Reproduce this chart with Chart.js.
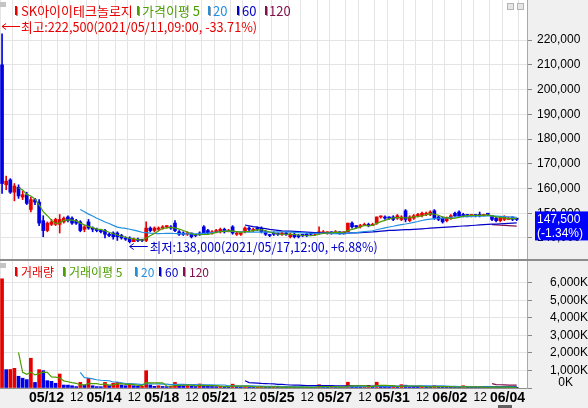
<!DOCTYPE html>
<html>
<head>
<meta charset="utf-8">
<script src="https://cdn.jsdelivr.net/npm/chart.js@4.4.0/dist/chart.umd.min.js"></script>
<style>
  html, body { margin: 0; padding: 0; background: #f0f0f0; }
  #wrap { position: relative; width: 588px; height: 408px; overflow: hidden; }
  canvas { position: absolute; left: 0; background: #f0f0f0; }
  #price { top: 0; }
  #sep { position: absolute; left: 0; top: 259px; width: 588px; height: 2px; background: #8c8c8c; }
  #volume { top: 261px; }
</style>
</head>
<body>
<div id="wrap">
  <canvas id="price" width="588" height="259" style="width:588px;height:259px"></canvas>
  <div id="sep"></div>
  <canvas id="volume" width="588" height="147" style="width:588px;height:147px"></canvas>
</div>
<script>
"use strict"

// 종목 / 날짜 / 시간 (60분봉)
const stockName = 'SK아이이테크놀로지';
const days = ['05/11', '05/12', '05/13', '05/14', '05/17', '05/18', '05/20', '05/21', '05/24',
    '05/25', '05/26', '05/27', '05/28', '05/31', '06/01', '06/02', '06/03', '06/04'];
const hours = ['09:00', '10:00', '11:00', '12:00', '13:00', '14:00', '15:00'];

// 시가 / 고가 / 저가 / 종가
const openPrices = [
    210000, 161500, 163500, 158500, 160500, 156500, 157500,
    151500, 155500, 154500, 147000, 143000, 145500, 145500,
    145500, 146500, 148500, 148000, 147000, 146500, 143500,
    146500, 144000, 143500, 143000, 143000, 141500, 142000,
    142000, 141000, 140000, 140000, 138500, 139500, 139500,
    139000, 144000, 143000, 143500, 144000, 144500, 144500,
    146000, 142500, 142000, 141500, 142000, 141500, 142000,
    144500, 143000, 142000, 142500, 142500, 143500, 142500,
    144500, 141500, 141500, 142500, 144000, 143000, 144000,
    144000, 142500, 141000, 142000, 142000, 141500, 142000,
    140500, 141500, 141000, 141500, 141500, 142000, 141500,
    142000, 142000, 142000, 142500, 142000, 142500, 142000,
    142500, 146000, 145000, 144500, 145000, 145500, 145000,
    146000, 148500, 148500, 148500, 148500, 148000, 147500,
    151000, 147000, 148000, 149000, 149000, 149500, 149500,
    151000, 148500, 148000, 147000, 148000, 150000, 150500,
    149500, 149500, 149000, 149500, 149500, 149000, 150000,
    149000, 148000, 147000, 147500, 147500, 148500, 148000
];
const highPrices = [
    222500, 165000, 164000, 162000, 161500, 159000, 158500,
    156500, 156000, 155500, 149000, 146500, 147500, 148000,
    149500, 148500, 149000, 148500, 147500, 147000, 145000,
    147500, 144500, 144000, 143500, 143500, 142000, 142500,
    142500, 141500, 140500, 140500, 140000, 140000, 139500,
    146500, 144500, 144500, 144500, 145000, 145000, 145000,
    147000, 143000, 142500, 142500, 142000, 141500, 142500,
    145000, 143500, 143000, 143500, 144000, 144000, 143500,
    145000, 142500, 142500, 144500, 144500, 144000, 144500,
    144500, 143000, 141500, 142500, 142000, 142500, 142500,
    142000, 142000, 141500, 141500, 142000, 142000, 142000,
    144500, 143000, 142500, 142500, 143000, 142500, 142500,
    146000, 146500, 145000, 145500, 146000, 146000, 146000,
    148500, 149000, 149000, 148500, 149000, 149500, 149000,
    151500, 149000, 149500, 150000, 150500, 150500, 151000,
    151500, 149000, 148500, 148500, 149500, 150500, 151000,
    150000, 149500, 149500, 149500, 150500, 149500, 150000,
    149000, 148500, 148500, 149000, 148500, 148500, 148000
];
const lowPrices = [
    158000, 159500, 158000, 155000, 156000, 155500, 153500,
    150500, 153500, 145000, 140500, 142500, 145000, 145000,
    142000, 146000, 146500, 145500, 145500, 142500, 142500,
    143500, 142500, 142500, 142000, 140000, 140500, 139500,
    139000, 139500, 139000, 138000, 138500, 138500, 138500,
    138500, 142500, 142500, 143000, 143500, 144000, 143500,
    142500, 141000, 141000, 141000, 140000, 140500, 141000,
    141500, 141500, 141500, 142000, 142000, 142000, 142500,
    141500, 141000, 141000, 142000, 143000, 142500, 143000,
    142000, 141000, 140500, 141000, 141000, 141000, 141000,
    140000, 140000, 140000, 140500, 140500, 141000, 141000,
    141500, 142000, 141500, 141500, 142000, 141500, 141500,
    142500, 144000, 144000, 144000, 145000, 144500, 145000,
    145500, 148000, 147500, 147500, 147000, 147500, 147000,
    146500, 146500, 147500, 148500, 148500, 149000, 149000,
    147500, 147000, 146000, 146500, 147500, 148500, 148500,
    148500, 148500, 148500, 148500, 148500, 149000, 149000,
    147000, 146500, 146500, 147000, 147500, 147000, 147000
];
const closePrices = [
    162000, 163000, 158500, 161000, 157000, 157500, 154000,
    155500, 154500, 146000, 143000, 146000, 146500, 147500,
    147500, 148000, 147000, 146000, 146000, 143000, 144500,
    144000, 143500, 143000, 142500, 141500, 141000, 140500,
    140500, 140000, 139500, 138500, 139500, 139000, 139000,
    144000, 143000, 144000, 144000, 144500, 145000, 144000,
    143000, 141500, 141500, 142000, 140500, 141000, 141500,
    142000, 142000, 142500, 143000, 143500, 142500, 143000,
    142000, 142000, 142000, 144000, 143500, 143500, 143500,
    142500, 141500, 141000, 141500, 141500, 142000, 141500,
    141500, 140500, 140500, 141000, 141000, 141500, 141500,
    142500, 142500, 142500, 142000, 142500, 142000, 142500,
    146000, 144500, 144500, 145000, 145500, 145000, 145500,
    148500, 148500, 148000, 148000, 147500, 149000, 148500,
    147500, 148500, 149000, 149500, 150000, 150000, 150500,
    148000, 147500, 146500, 148000, 149000, 149000, 149000,
    149000, 149000, 149500, 149000, 149000, 149500, 149500,
    147500, 147000, 148000, 148500, 148000, 147500, 147500
];

// 거래량 (천주)
const volumes = [
    6240, 1050, 1060, 1125, 670, 560, 480,
    1700, 320, 1050, 990, 420, 380, 270,
    800, 170, 165, 130, 80, 320, 170,
    550, 130, 80, 75, 320, 170, 270,
    320, 170, 130, 230, 130, 95, 100,
    990, 170, 95, 130, 90, 80, 100,
    320, 150, 130, 140, 110, 90, 230,
    160, 100, 90, 80, 100, 70, 60,
    220, 90, 70, 80, 60, 55, 70,
    90, 60, 50, 55, 45, 50, 40,
    60, 50, 45, 40, 45, 40, 50,
    190, 60, 45, 50, 40, 45, 50,
    330, 120, 80, 60, 70, 150, 80,
    330, 130, 80, 60, 70, 60, 190,
    160, 90, 70, 60, 80, 55, 50,
    130, 80, 70, 60, 55, 50, 45,
    130, 60, 50, 45, 40, 45, 40,
    60, 50, 45, 40, 35, 45, 40
];

const maPeriods = [5, 20, 60, 120];
const priceTicks = [140000, 150000, 160000, 170000, 180000, 190000, 200000, 210000, 220000];
const volumeTicks = [0, 1000, 2000, 3000, 4000, 5000, 6000];

// 색
const RED = '#e80000';
const BLUE = '#0000e6';
const maColors = ['#4c9e00', '#2290e0', '#0000c8', '#82104c'];
const GRID = '#e4e4e4';
const FONT = '"Liberation Sans", Arial, sans-serif';
const KFONT = '"Noto Sans CJK KR", "Noto Sans", sans-serif';

// 카테고리 (오른쪽 빈칸 2개)
const labels = [];
days.forEach((d) => hours.forEach((h) => labels.push(d + ' ' + h)));
labels.push('', '');

function movingAverage(values, n) {
    return values.map((v, i) => {
        if (i < n - 1) return null;
        let sum = 0;
        for (let k = i - n + 1; k <= i; k++) sum += values[k];
        return sum / n;
    });
}

// 양봉/음봉
const isUp = closePrices.map((c, i) => {
    if (c !== openPrices[i]) return c > openPrices[i];
    return i === 0 || c >= closePrices[i - 1];
});
const volUp = volumes.map((v, i) => i === 0 || v >= volumes[i - 1]);

function gridColor(c) {
    const i = c.index;
    return (i % 7 === 0 || i % 7 === 3) ? GRID : 'rgba(0,0,0,0)';
}

function xTickLabel(i) {
    if (i >= days.length * hours.length) return '';
    const d = Math.floor(i / 7);
    const h = i % 7;
    if (h === 0 && d % 2 === 1) return days[d];
    if (h === 3 && d % 2 === 0 && d > 0) return '12';
    return '';
}

// 축이 차트 영역을 줄이지 않게
function noPadding(s) {
    s.paddingTop = 0;
    s.paddingBottom = 0;
    s.paddingLeft = 0;
    s.paddingRight = 0;
}

// 흰색 차트 영역
const plotBackground = {
    id: 'plotBackground',
    beforeDraw(chart) {
        const { ctx, chartArea: a } = chart;
        ctx.save();
        ctx.fillStyle = '#ffffff';
        ctx.fillRect(a.left, a.top, a.right - a.left, a.bottom - a.top);
        ctx.restore();
    }
};

function drawLegend(ctx, items, y, size) {
    ctx.font = size + 'px ' + KFONT;
    ctx.textBaseline = 'middle';
    ctx.textAlign = 'left';
    items.forEach((it) => {
        ctx.fillStyle = '#9a9a9a';
        ctx.fillRect(it.m + 1, y - 3, 2, 9);
        ctx.fillStyle = it.color;
        ctx.fillRect(it.m, y - 4, 2, 9);
        ctx.fillText(it.text, it.x, y + 1);
    });
}

function drawArrow(ctx, x, y, len, color) {
    ctx.strokeStyle = color;
    ctx.lineWidth = 1;
    ctx.beginPath();
    ctx.moveTo(x, y + 0.5);
    ctx.lineTo(x + len, y + 0.5);
    ctx.moveTo(x + 4, y - 2.5);
    ctx.lineTo(x, y + 0.5);
    ctx.lineTo(x + 4, y + 3.5);
    ctx.stroke();
}

function pct(a, b) {
    const v = (a / b - 1) * 100;
    return (v >= 0 ? '+' : '') + v.toFixed(2) + '%';
}

function stamp(i) {
    return '2021/' + days[Math.floor(i / 7)] + ',' + hours[i % 7];
}

function fmt(v) {
    return v.toLocaleString('en-US');
}

const priceNotes = {
    id: 'priceNotes',
    afterDraw(chart) {
        const { ctx, scales: { x, y }, chartArea } = chart;
        const last = closePrices[closePrices.length - 1];
        const prevClose = closePrices[closePrices.length - 8];
        ctx.save();

        // 작은 아이콘
        ctx.fillStyle = '#c4c4c4';
        ctx.fillRect(0, 2, 6, 5);
        ctx.fillStyle = '#e6e6e6';
        ctx.strokeStyle = '#b4b4b4';
        ctx.fillRect(507, 3, 7, 7);
        ctx.strokeRect(507.5, 3.5, 6, 6);
        ctx.fillRect(517, 3, 7, 7);
        ctx.strokeRect(517.5, 3.5, 6, 6);

        drawLegend(ctx, [
            { m: 15, x: 21, text: stockName, color: RED },
            { m: 137, x: 142, text: '가격이평 5', color: maColors[0] },
            { m: 208, x: 213, text: '20', color: maColors[1] },
            { m: 237, x: 242, text: '60', color: maColors[2] },
            { m: 265, x: 269, text: '120', color: maColors[3] }
        ], 10, 13);

        // 최고가
        const hiVal = Math.max(...highPrices);
        const hi = highPrices.indexOf(hiVal);
        const hx = x.getPixelForValue(hi);
        const hy = Math.round(y.getPixelForValue(hiVal) - 8);
        ctx.font = '13px ' + KFONT;
        ctx.fillStyle = RED;
        drawArrow(ctx, hx, hy, 18, RED);
        ctx.fillText('최고:' + fmt(hiVal) + '(' + stamp(hi) + ', ' + pct(last, hiVal) + ')', hx + 19, hy + 1, 236);

        // 최저가
        const loVal = Math.min(...lowPrices);
        const lo = lowPrices.indexOf(loVal);
        const lx = x.getPixelForValue(lo);
        const ly = Math.round(y.getPixelForValue(loVal) + 3);
        ctx.fillStyle = '#0000c8';
        drawArrow(ctx, lx, ly, 18, '#0000c8');
        ctx.fillText('최저:' + fmt(loVal) + '(' + stamp(lo) + ', ' + pct(last, loVal) + ')', lx + 20, ly + 1, 228);

        // 현재가 박스
        const cy = y.getPixelForValue(last);
        ctx.fillStyle = '#0000ff';
        ctx.fillRect(chartArea.right + 8, cy - 8, 53, 29);
        ctx.fillStyle = '#ffffff';
        ctx.font = '12px ' + FONT;
        ctx.textAlign = 'left';
        ctx.textBaseline = 'middle';
        ctx.fillText(fmt(last), chartArea.right + 10, cy);
        ctx.fillText('(' + ((last / prevClose - 1) * 100).toFixed(2) + '%)', chartArea.right + 10, cy + 14);
        ctx.restore();
    }
};

const volumeNotes = {
    id: 'volumeNotes',
    afterDraw(chart) {
        const { ctx, scales: { y } } = chart;
        ctx.save();
        ctx.fillStyle = '#c4c4c4';
        ctx.fillRect(0, 2, 6, 5);
        drawLegend(ctx, [
            { m: 15, x: 21, text: '거래량', color: RED },
            { m: 63, x: 69, text: '거래이평 5', color: maColors[0] },
            { m: 135, x: 141, text: '20', color: maColors[1] },
            { m: 159, x: 165, text: '60', color: maColors[2] },
            { m: 183, x: 189, text: '120', color: maColors[3] }
        ], 10, 12);
        ctx.font = '12px ' + FONT;
        ctx.fillStyle = '#000';
        ctx.textAlign = 'right';
        ctx.textBaseline = 'middle';
        ctx.fillText('0K', 573, y.getPixelForValue(0) - 5.5);
        // 스크롤 표시
        ctx.fillStyle = '#606060';
        ctx.fillRect(498, 144, 14, 3);
        ctx.restore();
    }
};

function maDatasets(values) {
    return maPeriods.map((n, k) => ({
        type: 'line',
        data: movingAverage(values, n),
        borderColor: maColors[k],
        borderWidth: 1.2,
        pointRadius: 0,
        tension: 0,
        order: 0
    }));
}

// 가격 차트
new Chart(document.getElementById('price'), {
    type: 'bar',
    data: {
        labels: labels,
        datasets: [
            ...maDatasets(closePrices),
            {
                data: openPrices.map((o, i) => [o, closePrices[i]]),
                backgroundColor: (c) => isUp[c.dataIndex] ? RED : BLUE,
                barThickness: 3,
                minBarLength: 1,
                grouped: false,
                order: 1
            },
            {
                data: lowPrices.map((l, i) => [l, highPrices[i]]),
                backgroundColor: (c) => isUp[c.dataIndex] ? RED : BLUE,
                barThickness: 1,
                grouped: false,
                order: 2
            }
        ]
    },
    options: {
        responsive: false,
        animation: false,
        events: [],
        layout: { padding: 0 },
        plugins: { legend: { display: false }, tooltip: { enabled: false } },
        scales: {
            x: {
                offset: true,
                afterFit: (s) => { s.height = 0; noPadding(s); },
                grid: { offset: true, color: gridColor, drawTicks: false },
                border: { display: false },
                ticks: { display: false, autoSkip: false }
            },
            y: {
                position: 'right',
                min: 131500,
                max: 236200,
                afterBuildTicks: (s) => { s.ticks = priceTicks.map((v) => ({ value: v })); },
                afterFit: (s) => { s.width = 61; noPadding(s); },
                grid: { color: GRID, tickColor: '#8a8a8a', tickLength: 5 },
                border: { color: '#a8a8a8' },
                ticks: {
                    autoSkip: false,
                    padding: 5,
                    color: '#000',
                    font: { family: FONT, size: 12 },
                    callback: (v) => fmt(v)
                }
            }
        }
    },
    plugins: [plotBackground, priceNotes]
});

// 거래량 차트
new Chart(document.getElementById('volume'), {
    type: 'bar',
    data: {
        labels: labels,
        datasets: [
            ...maDatasets(volumes),
            {
                data: volumes,
                backgroundColor: (c) => volUp[c.dataIndex] ? RED : BLUE,
                barThickness: 3,
                grouped: false,
                order: 1
            }
        ]
    },
    options: {
        responsive: false,
        animation: false,
        events: [],
        layout: { padding: 0 },
        plugins: { legend: { display: false }, tooltip: { enabled: false } },
        scales: {
            x: {
                offset: true,
                afterFit: (s) => { s.height = 20; noPadding(s); },
                grid: { offset: true, color: gridColor, drawTicks: false },
                border: { color: '#909090' },
                ticks: {
                    autoSkip: false,
                    maxRotation: 0,
                    minRotation: 0,
                    align: 'start',
                    labelOffset: -2,
                    padding: 2,
                    color: '#000',
                    font: (c) => {
                        const plain = c.tick && c.tick.label === '12';
                        return { family: FONT, size: plain ? 12 : 14, weight: plain ? 'normal' : 'bold' };
                    },
                    callback: (v, i) => xTickLabel(i)
                }
            },
            y: {
                position: 'right',
                min: 0,
                max: 7257,
                afterBuildTicks: (s) => { s.ticks = volumeTicks.map((v) => ({ value: v })); },
                afterFit: (s) => { s.width = 61; noPadding(s); },
                grid: { color: GRID, tickColor: '#8a8a8a', tickLength: 5 },
                border: { color: '#a8a8a8' },
                ticks: {
                    autoSkip: false,
                    padding: 3,
                    crossAlign: 'far',
                    color: '#000',
                    font: { family: FONT, size: 12 },
                    callback: (v) => v === 0 ? '' : fmt(v) + 'K'
                }
            }
        }
    },
    plugins: [plotBackground, volumeNotes]
});
</script>
</body>
</html>
